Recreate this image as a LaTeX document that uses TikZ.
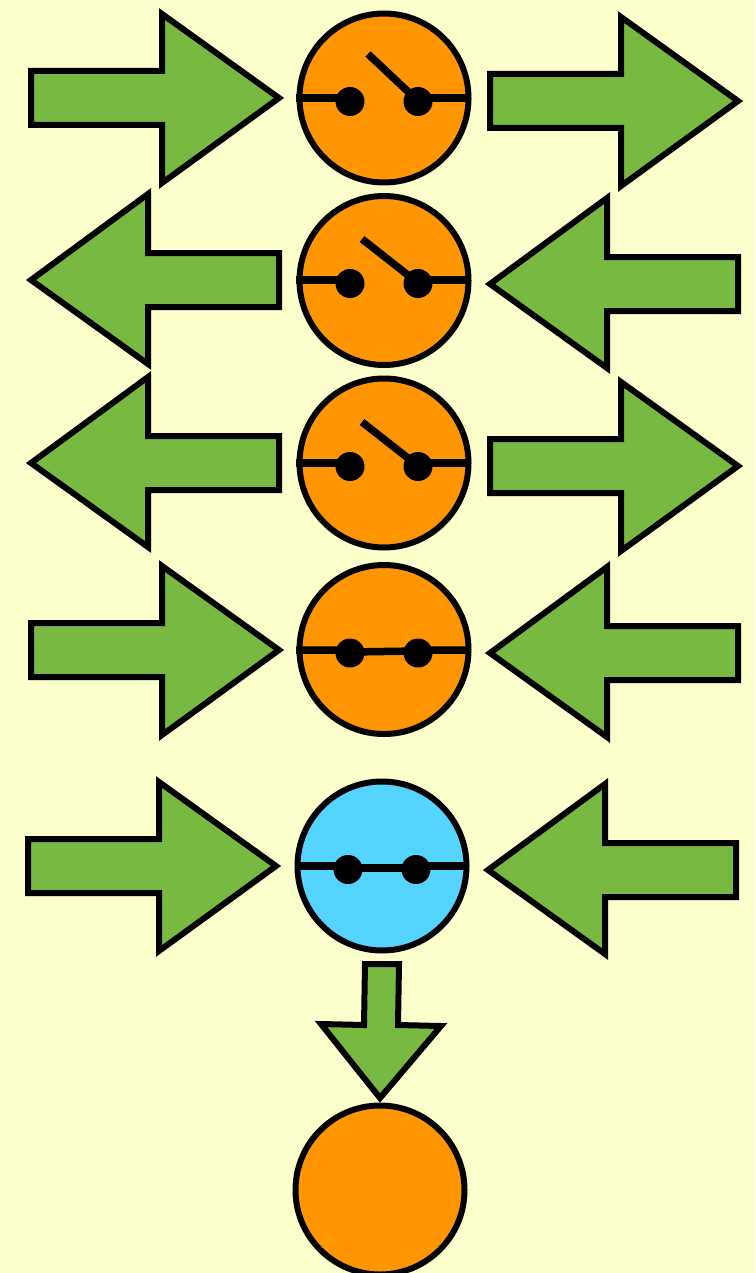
\documentclass[tikz,border=0pt]{standalone}
\definecolor{bgy}{HTML}{FCFFCC}
\definecolor{grn}{HTML}{78BA41}
\definecolor{org}{HTML}{FF9500}
\definecolor{blu}{HTML}{55D4FF}
\tikzset{
  ln/.style={draw=black,line width=6pt,line join=miter,miter limit=10},
  arrowshape/.style={ln,fill=grn},
  disc/.style={ln,fill=org},
  discb/.style={ln,fill=blu},
  wire/.style={draw=black,line width=7.5pt},
  contact/.style={fill=black},
}
\newcommand{\RA}[2]{\path[arrowshape,shift={(#1,#2)}] (0,-27) -- (131,-27) -- (131,-84) -- (248,0) -- (131,85) -- (131,27) -- (0,27) -- cycle;}
\newcommand{\LA}[2]{\path[arrowshape,shift={(#1,#2)}] (0,-27) -- (-131,-27) -- (-131,-86) -- (-248,0) -- (-131,84) -- (-131,27) -- (0,27) -- cycle;}
% #1 centre x, #2 wire y, #3 lever top x offset, #4 lever top y offset
\newcommand{\SW}[4]{%
  \begin{scope}[shift={(#1,#2)}]
  \path[wire] (-88,0) -- (-34,0);
  \path[wire] (34,0) -- (85,0);
  \path[wire] (#3,#4) -- (34,3);
  \path[contact] (-34,3.5) circle (14.5);
  \path[contact] (34,3.5) circle (14.5);
  \end{scope}}
% closed switch
\newcommand{\CS}[2]{%
  \begin{scope}[shift={(#1,#2)}]
  \path[wire] (-88,0) -- (-34,0) (-34,2) -- (34,1) (34,0) -- (85,0);
  \path[contact] (-34,3) circle (14.5);
  \path[contact] (34,3) circle (14.5);
  \end{scope}}
\begin{document}
\begin{tikzpicture}[x=1pt,y=-1pt]
\useasboundingbox (0,0) rectangle (755,1273);
\fill[bgy] (0,0) rectangle (755,1273);
\RA{31}{98}
\RA{490}{101}
\LA{279}{280}
\LA{738}{284}
\LA{279}{463}
\RA{490}{466}
\RA{31}{650}
\LA{738}{653}
\RA{28}{866}
\LA{736}{870}
\path[disc] (384,98) circle (84.5);
\SW{384}{98}{-16}{-44}
\path[disc] (384,280.5) circle (84.5);
\SW{384}{280}{-22}{-41}
\path[disc] (384,463) circle (84.5);
\SW{384}{463}{-22}{-41}
\path[disc] (384,649.5) circle (84.5);
\CS{384}{650}
\path[discb] (382,866) circle (84.5);
\begin{scope}[shift={(382,866)}]
\path[wire] (-85,0) -- (-34,0) (-34,2) -- (34,2) (34,0) -- (85,0);
\path[contact] (-34,3.5) circle (14.5);
\path[contact] (34,3.5) circle (14.5);
\end{scope}
\path[arrowshape] (365,964) -- (399,964) -- (398,1025) -- (441,1026) -- (380,1098) -- (321,1024) -- (364,1025) -- cycle;
\path[disc] (380,1190) circle (84.5);
\end{tikzpicture}
\end{document}
